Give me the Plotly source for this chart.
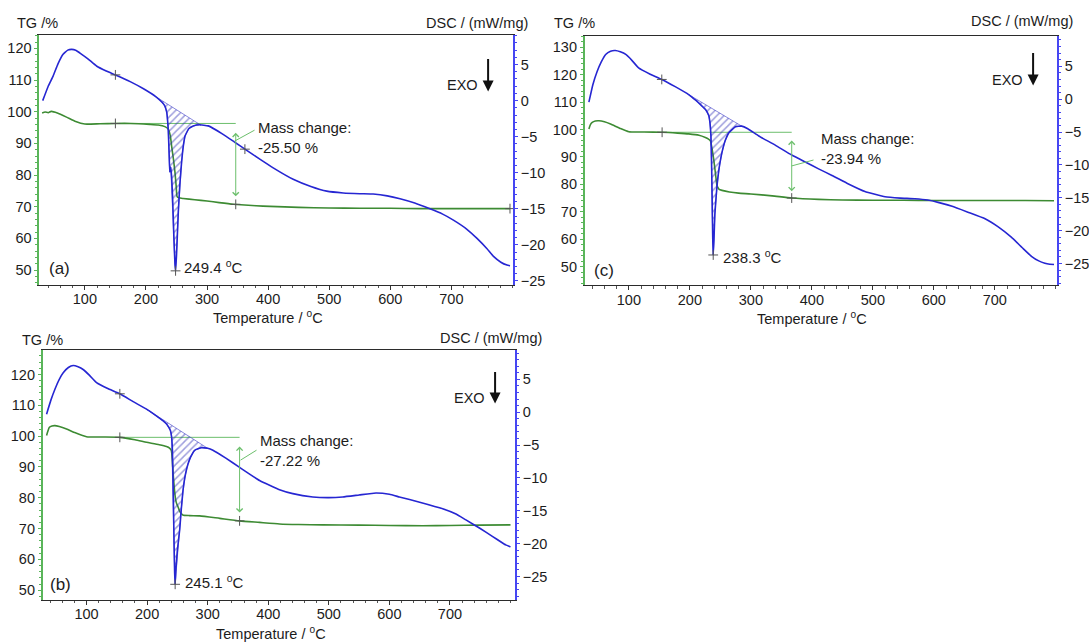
import numpy as np
import plotly.graph_objects as go

W, H = 1089, 644
FONT = "Liberation Sans, Arial, Helvetica, sans-serif"
TXT = "#1c1c1c"
BLUE = "#2626d2"
GREEN = "#3d8b33"
GREEN_AX = "#5ab55a"
BLUE_AX = "#4646f2"
HATCH = "rgba(40,40,180,0.9)"

# ---------------- data: panel (a) ----------------
a_dsc_T = [31, 40, 48, 56, 64, 72, 78, 85, 92, 105, 119, 135, 152, 175, 196, 217, 226, 231, 234,
           236.5, 238, 239, 240.5, 242, 243.5, 245.8, 247.5, 248.5, 250, 251.5, 253, 255.5, 258.4,
           261, 264, 270, 277.5, 288, 302, 325, 346, 365, 387, 409, 441, 470, 496, 523, 550, 572,
           595, 616, 640, 665, 685, 704, 725, 742, 758, 769, 781, 791, 796]
a_dsc = [0.0, 2.0, 3.4, 5.1, 6.4, 7.0, 7.1, 7.0, 6.6, 5.8, 4.8, 4.1, 3.5, 2.6, 1.65, 0.5, -0.2, -0.75, -1.6,
         -4.0, -7.5, -9.9, -9.2, -10.5, -13.1, -19.1, -22.6, -23.6, -21.5, -18.5, -15.4, -11.6, -8.5,
         -6.4, -4.9, -3.9, -3.5, -3.35, -3.5, -4.6, -5.8, -6.9, -8.15, -9.35, -10.9, -11.9, -12.55, -12.8, -12.9, -12.95,
         -13.2, -13.6, -14.2, -15.0, -15.7, -16.6, -17.8, -19.1, -20.5, -21.6, -22.4, -22.8, -22.9]
a_tg_T = [30, 35, 40, 45, 55, 70, 85, 100, 125, 150, 175, 206, 220, 231, 236.5, 240, 242, 245, 247.5,
          249.5, 251, 254, 261, 280, 300, 320, 343, 380, 403, 450, 500, 550, 600, 650, 700, 750, 796]
a_tg = [99.6, 99.9, 99.7, 100.1, 99.6, 98.3, 96.9, 96.1, 96.2, 96.3, 96.3, 96.0, 95.8, 95.3, 94.5, 92.3, 89.2, 85.0, 80.9,
        76.5, 73.2, 72.8, 72.6, 72.2, 71.8, 71.3, 70.8, 70.3, 70.1, 69.8, 69.6, 69.5, 69.5, 69.4, 69.4, 69.4, 69.4]
a_base_T = [217, 290]          # integration baseline of the DSC peak
a_base = [0.5, -3.4]
a_mass_T = [150, 347]          # mass-change step: start / end temperatures
a_mass_level = [96.3, 73.0]    # TG levels before / after
a_mass_text = "Mass change:<br>-25.50 %"
a_peak_text = "249.4 <sup>o</sup>C"
a_marks_tg = [150, 347, 796]
a_marks_dsc = [150, 362, 248.5]
a_tg_ticks = [50, 60, 70, 80, 90, 100, 110, 120]

# ---------------- data: panel (c) ----------------
c_dsc_T = [34.5, 41, 48, 55, 62, 70, 78, 86, 95, 105, 116, 135, 154, 176, 198, 210, 220, 226, 231,
           233, 234.5, 235.5, 236.5, 237.5, 238.3, 239.5, 241, 244.5, 248, 252.7, 258, 264, 274.6,
           285, 295, 313, 340, 367, 390, 411, 433, 460, 487, 520, 545, 569, 590, 607, 630, 656, 684,
           705, 727, 745, 760, 772, 782, 790, 797]
c_dsc = [-0.45, 2.2, 4.2, 5.7, 6.8, 7.3, 7.4, 7.2, 6.8, 5.9, 4.75, 3.8, 3.0, 1.9, 0.7, -0.2, -1.05, -1.6, -2.5,
         -3.6, -5.5, -9.0, -15.0, -21.0, -23.7, -21.5, -17.5, -13.2, -10.5, -8.1, -6.3, -5.1, -4.2,
         -4.1, -4.5, -5.6, -7.0, -8.5, -9.6, -10.6, -11.6, -12.9, -14.05, -14.85, -15.05, -15.15, -15.35, -15.7, -16.3, -17.2, -18.2,
         -19.4, -21.0, -22.6, -23.9, -24.6, -24.95, -25.1, -25.15]
c_tg_T = [34.5, 37, 40, 45, 51, 60, 70, 85, 100, 125, 154.5, 180, 198, 215, 225.5, 230, 233.7, 236, 239, 242,
          244.5, 248, 252.7, 265, 280, 300, 335, 367, 411, 450, 500, 550, 600, 650, 700, 750, 797]
c_tg = [100.2, 101.8, 102.6, 103.1, 103.2, 102.8, 102.0, 100.5, 99.2, 99.1, 99.0, 98.7, 98.4, 97.9, 97.1, 96.6,
        95.9, 93.5, 89.3, 84.0, 79.6, 78.2, 77.8, 77.2, 76.8, 76.5, 75.8, 75.0, 74.5, 74.3, 74.2, 74.2, 74.1,
        74.1, 74.1, 74.1, 74.0]
c_base_T = [198, 285]
c_base = [0.7, -4.1]
c_mass_T = [154.5, 367]
c_mass_level = [99.0, 77.2]
c_mass_text = "Mass change:<br>-23.94 %"
c_peak_text = "238.3 <sup>o</sup>C"
c_marks_tg = [154.5, 367]
c_marks_dsc = [154, 238.3]
c_tg_ticks = [50, 60, 70, 80, 90, 100, 110, 120, 130]

# ---------------- data: panel (b) ----------------
b_dsc_T = [34, 41, 47.8, 55, 61.5, 70, 78, 86, 94.4, 105, 116.5, 135, 155, 177, 199, 213, 226, 233,
           238.5, 240.5, 241.8, 242.5, 243.5, 244.5, 245.5, 246.3, 247.5, 250, 253.8, 256.5, 259.3, 263,
           267.5, 272, 278.5, 289.6, 300, 308.7, 330, 352.7, 385.7, 418.6, 440.6, 473.6, 500, 523, 550,
           578, 600, 616.4, 650, 688, 710, 726.4, 750, 770, 785, 792, 800]
b_dsc = [-0.3, 1.8, 3.5, 5.0, 6.0, 6.8, 7.1, 6.9, 6.5, 5.6, 4.5, 3.6, 2.8, 1.6, 0.46, -0.4, -1.3, -1.9,
         -2.8, -3.8, -5.8, -9.0, -14.0, -20.0, -24.5, -26.2, -24.0, -21.0, -17.9, -14.7, -11.9, -9.6,
         -7.9, -6.8, -5.8, -5.4, -5.5, -5.8, -7.0, -8.4, -10.4, -11.8, -12.4, -12.9, -13.0, -12.9, -12.6,
         -12.3, -12.5, -12.9, -13.7, -14.7, -15.5, -16.4, -17.7, -18.9, -19.8, -20.2, -20.5]
b_tg_T = [34, 36, 38.4, 43, 47.8, 55, 67, 80, 100, 125, 155, 180, 199, 220, 232, 237, 240, 241.5, 243, 245,
          247, 249, 251, 254, 259, 270, 286.8, 320, 352.7, 385.7, 418.6, 450, 490, 550, 600, 655, 700, 750, 800]
b_tg = [100.2, 101.5, 102.8, 103.3, 103.4, 103.1, 102.3, 101.2, 99.8, 99.7, 99.6, 98.8, 98.0, 97.2, 96.6,
        96.1, 95.3, 92.5, 87.8, 83.0, 79.5, 78.0, 77.1, 75.5, 74.4, 74.2, 74.1, 73.3, 72.5, 72.0, 71.5, 71.3,
        71.2, 71.1, 71.0, 70.9, 71.0, 71.1, 71.2]
b_base_T = [199, 300]
b_base = [0.46, -5.5]
b_mass_T = [155, 352.7]
b_mass_level = [99.6, 74.9]
b_mass_text = "Mass change:<br>-27.22 %"
b_peak_text = "245.1 <sup>o</sup>C"
b_marks_tg = [155, 352.7]
b_marks_dsc = [155, 246.3]
b_tg_ticks = [50, 60, 70, 80, 90, 100, 110, 120]

dsc_ticks = [-25, -20, -15, -10, -5, 0, 5]
temp_ticks = [100, 200, 300, 400, 500, 600, 700]

# ---------------- layout geometry (pixels of the 1089x644 page) ----------------
panels = [
    dict(key="a", xa="x", ya="y", ya2="y2", box=(39.3, 35, 514, 286.7),
         xr=[25.3, 801], tgr=[45.3, 124.3], dscr=[-25.55, 9.13],
         dsc_T=a_dsc_T, dsc=a_dsc, tg_T=a_tg_T, tg=a_tg, base_T=a_base_T, base=a_base,
         mass_T=a_mass_T, mass_lv=a_mass_level, mass_text=a_mass_text, peak_text=a_peak_text,
         marks_tg=a_marks_tg, marks_dsc=a_marks_dsc, tg_ticks=a_tg_ticks,
         tg_title=(15, 23), dsc_title=(531, 23), t_title=(268, 319), exo=(446, 86, 489, 58, 92),
         label=(47, 270), peak_lbl=(182, 268), mass_lbl=(256, 128), leader=(235, 142, 255, 131)),
    dict(key="c", xa="x2", ya="y3", ya2="y4", box=(585.7, 36, 1059, 287),
         xr=[27.5, 802], tgr=[43.2, 134.2], dscr=[-28.3, 9.64],
         dsc_T=c_dsc_T, dsc=c_dsc, tg_T=c_tg_T, tg=c_tg, base_T=c_base_T, base=c_base,
         mass_T=c_mass_T, mass_lv=c_mass_level, mass_text=c_mass_text, peak_text=c_peak_text,
         marks_tg=c_marks_tg, marks_dsc=c_marks_dsc, tg_ticks=c_tg_ticks,
         tg_title=(553, 23), dsc_title=(1077, 21), t_title=(813, 320), exo=(992, 80, 1035, 52, 86),
         label=(593, 272), peak_lbl=(722, 258), mass_lbl=(821, 139), leader=(793, 167, 815, 161)),
    dict(key="b", xa="x3", ya="y5", ya2="y6", box=(42.7, 352.3, 516, 603.5),
         xr=[27.5, 807.5], tgr=[46.9, 127.9], dscr=[-28.55, 9.45],
         dsc_T=b_dsc_T, dsc=b_dsc, tg_T=b_tg_T, tg=b_tg, base_T=b_base_T, base=b_base,
         mass_T=b_mass_T, mass_lv=b_mass_level, mass_text=b_mass_text, peak_text=b_peak_text,
         marks_tg=b_marks_tg, marks_dsc=b_marks_dsc, tg_ticks=b_tg_ticks,
         tg_title=(20, 342), dsc_title=(545, 340), t_title=(271, 637), exo=(453, 400, 496, 373, 406),
         label=(48, 588), peak_lbl=(183, 585), mass_lbl=(258, 443), leader=(241, 463, 257, 453)),
]


def px(x):
    return x / W


def py(y):
    return 1 - y / H


fig = go.Figure()
annotations = []
shapes = []
layout = dict(width=W, height=H, margin=dict(l=0, r=0, t=0, b=0),
              paper_bgcolor="white", plot_bgcolor="white", showlegend=False,
              font=dict(family=FONT, size=14, color=TXT))

for p in panels:
    x0, y0, x1, y1 = p["box"]
    xa, ya, ya2 = p["xa"], p["ya"], p["ya2"]
    xkey = "xaxis" + xa[1:]
    ykey = "yaxis" + ya[1:]
    y2key = "yaxis" + ya2[1:]

    layout[xkey] = dict(domain=[px(x0), px(x1)], range=p["xr"], anchor=ya,
                        tickvals=temp_ticks, ticks="outside", ticklen=4, tickcolor="#333",
                        showline=True, linecolor="#2b2b2b", linewidth=1, mirror=True,
                        minor=dict(dtick=20, tick0=0, ticks="outside", ticklen=2.5, tickcolor="#555"),
                        ticklabelstandoff=-3,
                        showgrid=False, zeroline=False, tickfont=dict(size=14.5, color=TXT))
    layout[ykey] = dict(domain=[py(y1), py(y0)], range=p["tgr"], anchor=xa, side="left",
                        tickvals=p["tg_ticks"], ticks="outside", ticklen=3, tickcolor=GREEN_AX,
                        showline=True, linecolor=GREEN_AX, linewidth=1.5,
                        minor=dict(dtick=2, tick0=0, ticks="outside", ticklen=2, tickcolor=GREEN_AX),
                        showgrid=False, zeroline=False, tickfont=dict(size=14.5, color=TXT))
    layout[y2key] = dict(overlaying=ya, range=p["dscr"], anchor=xa, side="right",
                         tickvals=dsc_ticks, ticks="outside", ticklen=3, tickcolor=BLUE_AX,
                         showline=True, linecolor=BLUE_AX, linewidth=1.5,
                         minor=dict(dtick=1, tick0=0, ticks="outside", ticklen=2, tickcolor=BLUE_AX),
                         showgrid=False, zeroline=False, tickfont=dict(size=14.5, color=TXT))

    dT = np.array(p["dsc_T"], dtype=float)
    dV = np.array(p["dsc"], dtype=float)
    tT = np.array(p["tg_T"], dtype=float)
    tV = np.array(p["tg"], dtype=float)

    # hatched peak area between baseline and DSC curve
    bT0, bT1 = p["base_T"]
    b0, b1 = p["base"]
    m = (dT > bT0) & (dT < bT1)
    poly_x = np.concatenate([[bT0, bT1], dT[m][::-1], [bT0]])
    poly_y = np.concatenate([[b0, b1], dV[m][::-1], [b0]])
    fig.add_trace(go.Scatter(x=poly_x, y=poly_y, xaxis=xa, yaxis=ya2, mode="lines",
                             line=dict(width=0.8, color="rgba(60,60,200,0.75)"), fill="toself",
                             fillcolor="rgba(0,0,0,0)",
                             fillpattern=dict(shape="/", fgcolor=HATCH, bgcolor="rgba(255,255,255,0)",
                                              size=5, solidity=0.3),
                             hoverinfo="skip"))

    # mass change reference line (horizontal) in TG coordinates
    mT0, mT1 = p["mass_T"]
    lv0, lv1 = p["mass_lv"]
    fig.add_trace(go.Scatter(x=[mT0, mT1], y=[lv0, lv0], xaxis=xa, yaxis=ya, mode="lines",
                             line=dict(width=1, color="#6cbf6c"), hoverinfo="skip"))

    # TG curve
    fig.add_trace(go.Scatter(x=tT, y=tV, xaxis=xa, yaxis=ya, mode="lines",
                             line=dict(width=1.6, color=GREEN, shape="spline", smoothing=0.5)))
    # DSC curve
    fig.add_trace(go.Scatter(x=dT, y=dV, xaxis=xa, yaxis=ya2, mode="lines",
                             line=dict(width=1.6, color=BLUE, shape="spline", smoothing=0.35)))

    # cross marks placed on the curves
    mk_tg = np.array(p["marks_tg"], dtype=float)
    mk_dsc = np.array(p["marks_dsc"], dtype=float)
    fig.add_trace(go.Scatter(x=mk_tg, y=np.interp(mk_tg, tT, tV), xaxis=xa, yaxis=ya, mode="markers",
                             marker=dict(symbol="cross-thin", size=7, line=dict(width=1, color="#555"))))
    fig.add_trace(go.Scatter(x=mk_dsc, y=np.interp(mk_dsc, dT, dV), xaxis=xa, yaxis=ya2, mode="markers",
                             marker=dict(symbol="cross-thin", size=7, line=dict(width=1, color="#555"))))

    # double arrow for mass change
    annotations.append(dict(x=mT1, y=lv1 + 0.3, ax=mT1, ay=lv0 - 2.5, xref=xa, yref=ya, axref=xa, ayref=ya,
                            showarrow=True, arrowside="end+start", arrowhead=4, arrowsize=1.2,
                            arrowwidth=1, arrowcolor="#6cbf6c", text=""))
    # leader line
    lx0, ly0, lx1, ly1 = p["leader"]
    shapes.append(dict(type="line", xref="paper", yref="paper", x0=px(lx0), y0=py(ly0),
                       x1=px(lx1), y1=py(ly1), line=dict(color="#6cbf6c", width=1)))

    # texts
    tx, ty = p["mass_lbl"]
    annotations.append(dict(x=px(tx), y=py(ty - 10), xref="paper", yref="paper", xanchor="left",
                            yanchor="top", align="left", showarrow=False, text=p["mass_text"],
                            font=dict(size=15, color=TXT)))
    tx, ty = p["peak_lbl"]
    annotations.append(dict(x=px(tx), y=py(ty), xref="paper", yref="paper", xanchor="left",
                            yanchor="middle", showarrow=False, text=p["peak_text"],
                            font=dict(size=15, color=TXT)))
    tx, ty = p["label"]
    annotations.append(dict(x=px(tx), y=py(ty), xref="paper", yref="paper", xanchor="left",
                            yanchor="middle", showarrow=False, text="(" + p["key"] + ")",
                            font=dict(size=17, color=TXT)))
    tx, ty = p["tg_title"]
    annotations.append(dict(x=px(tx), y=py(ty), xref="paper", yref="paper", xanchor="left",
                            yanchor="middle", showarrow=False, text="TG /%",
                            font=dict(size=14.5, color=TXT)))
    tx, ty = p["dsc_title"]
    annotations.append(dict(x=px(tx), y=py(ty), xref="paper", yref="paper", xanchor="right",
                            yanchor="middle", showarrow=False, text="DSC / (mW/mg)",
                            font=dict(size=14.5, color=TXT)))
    tx, ty = p["t_title"]
    annotations.append(dict(x=px(tx), y=py(ty), xref="paper", yref="paper", xanchor="center",
                            yanchor="middle", showarrow=False, text="Temperature / <sup>o</sup>C",
                            font=dict(size=14.5, color=TXT)))
    ex, ey, ax_, ay0, ay1 = p["exo"]
    annotations.append(dict(x=px(ex), y=py(ey), xref="paper", yref="paper", xanchor="left",
                            yanchor="middle", showarrow=False, text="EXO",
                            font=dict(size=14.5, color=TXT)))
    annotations.append(dict(x=px(ax_), y=py(ay1), xref="paper", yref="paper",
                            ax=0, ay=-(ay1 - ay0), axref="pixel", ayref="pixel",
                            showarrow=True, arrowhead=2, arrowsize=1.1, arrowwidth=2,
                            arrowcolor="#111", text=""))

layout["annotations"] = annotations
layout["shapes"] = shapes
fig.update_layout(**layout)
fig.write_html("out.html")
